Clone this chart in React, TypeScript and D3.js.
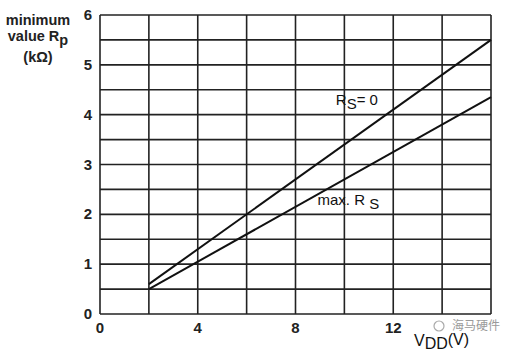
import React, { useEffect, useRef } from "react";
import * as d3 from "d3";

// data
const vdd = [2, 16];
const rpNoRs = [0.6, 5.5];
const rpMaxRs = [0.5, 4.35];
const xTicks = [0, 4, 8, 12];
const yTicks = [0, 1, 2, 3, 4, 5, 6];
const xGrid = [0, 2, 4, 6, 8, 10, 12, 14, 16];
const yGrid = [0, 0.5, 1, 1.5, 2, 2.5, 3, 3.5, 4, 4.5, 5, 5.5, 6];

const W = 515;
const H = 351;
const M = { top: 15, right: 24, bottom: 37, left: 100 };
const FONT = "'Liberation Sans', Arial, sans-serif";

const App = () => {
  const svgRef = useRef<SVGSVGElement>(null);

  useEffect(() => {
    const svg = d3.select(svgRef.current);
    svg.selectAll("*").remove();

    const cw = W - M.left - M.right;
    const ch = H - M.top - M.bottom;

    const x = d3.scaleLinear().domain([0, 16]).range([0, cw]);
    const y = d3.scaleLinear().domain([0, 6]).range([ch, 0]);

    const g = svg.append("g").attr("transform", `translate(${M.left},${M.top})`);

    // grid
    g.selectAll(".vg")
      .data(xGrid)
      .enter()
      .append("line")
      .attr("x1", (d) => x(d))
      .attr("x2", (d) => x(d))
      .attr("y1", 0)
      .attr("y2", ch)
      .attr("stroke", "#222")
      .attr("stroke-width", 1.6);

    g.selectAll(".hg")
      .data(yGrid)
      .enter()
      .append("line")
      .attr("x1", 0)
      .attr("x2", cw)
      .attr("y1", (d) => y(d))
      .attr("y2", (d) => y(d))
      .attr("stroke", "#222")
      .attr("stroke-width", 1.6);

    // tick labels
    g.selectAll(".yt")
      .data(yTicks)
      .enter()
      .append("text")
      .attr("x", -8)
      .attr("y", (d) => y(d) + 5)
      .attr("text-anchor", "end")
      .style("font-family", FONT)
      .style("font-size", "15px")
      .style("font-weight", "bold")
      .attr("fill", "#222")
      .text((d) => d);

    g.selectAll(".xt")
      .data(xTicks)
      .enter()
      .append("text")
      .attr("x", (d) => x(d))
      .attr("y", ch + 19)
      .attr("text-anchor", "middle")
      .style("font-family", FONT)
      .style("font-size", "15px")
      .style("font-weight", "bold")
      .attr("fill", "#222")
      .text((d) => d);

    // curves
    const line = d3
      .line<number>()
      .x((d, i) => x(vdd[i]))
      .y((d) => y(d));

    [rpNoRs, rpMaxRs].forEach((s) => {
      g.append("path")
        .datum(s)
        .attr("fill", "none")
        .attr("stroke", "#111")
        .attr("stroke-width", 2)
        .attr("d", line);
    });

    // annotations
    const lbl = (tx: number, ty: number, main: string, sub: string, tail: string) => {
      const t = g
        .append("text")
        .attr("x", tx)
        .attr("y", ty)
        .style("font-family", FONT)
        .style("font-size", "15px")
        .attr("fill", "#111");
      t.append("tspan").text(main);
      t.append("tspan").attr("dy", 4).text(sub);
      if (tail) t.append("tspan").attr("dy", -4).text(tail);
      return t;
    };

    lbl(x(9.65), y(4.2), "R", "S", "= 0");
    lbl(x(8.9), y(2.18), "max. R ", "S", "");

    // x title
    const xt = svg
      .append("text")
      .attr("x", 414)
      .attr("y", 346)
      .style("font-family", FONT)
      .style("font-size", "16px")
      .attr("fill", "#111");
    xt.append("tspan").text("V");
    xt.append("tspan").attr("dy", 3).text("DD");
    xt.append("tspan").attr("dy", -4).text("(V)");

    // y title
    const yt = svg
      .append("g")
      .style("font-family", FONT)
      .style("font-size", "14.5px")
      .style("font-weight", "bold")
      .attr("fill", "#222")
      .attr("text-anchor", "middle");
    yt.append("text").attr("x", 38).attr("y", 25).text("minimum");
    const v = yt.append("text").attr("x", 38).attr("y", 41);
    v.append("tspan").text("value R");
    v.append("tspan").attr("dy", 4).text("p");
    yt.append("text").attr("x", 38).attr("y", 62).text("(kΩ)");

    // watermark
    svg
      .append("text")
      .attr("x", 452)
      .attr("y", 330)
      .style("font-family", "'Noto Sans CJK SC', sans-serif")
      .style("font-size", "12px")
      .attr("fill", "#9a9a9a")
      .text("海马硬件");
    svg
      .append("circle")
      .attr("cx", 439)
      .attr("cy", 326)
      .attr("r", 5)
      .attr("fill", "none")
      .attr("stroke", "#aaa")
      .attr("stroke-width", 1.2);
  }, []);

  return (
    <svg
      ref={svgRef}
      width={W}
      height={H}
      style={{ position: "absolute", left: 0, top: 0, background: "#fff" }}
    ></svg>
  );
};

export default App;
